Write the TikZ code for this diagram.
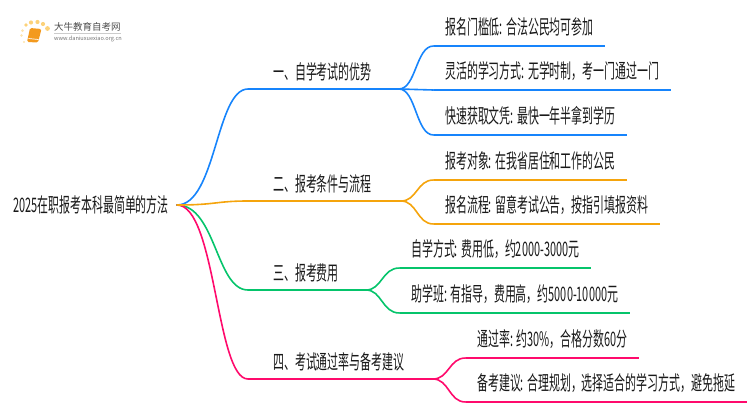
\documentclass[tikz,border=0pt]{standalone}
\usepackage{fontspec}
\setmainfont{Noto Sans CJK SC}
\newfontfamily\mapfont[FakeStretch=0.547]{Noto Sans CJK SC}
\usetikzlibrary{positioning}
\definecolor{bluelink}{HTML}{1684FC}
\definecolor{orangelink}{HTML}{F5A40C}
\definecolor{greenlink}{HTML}{05C46B}
\definecolor{pinklink}{HTML}{FF0A6C}
\definecolor{booklogo}{HTML}{F39A1E}
\definecolor{dotlogo}{HTML}{FCD27A}

\begin{document}
\begin{tikzpicture}[
    x=1pt, y=-1pt,
    title/.style={
        font=\mapfont\fontsize{20}{22}\selectfont,
        text=black!90,
        inner ysep=0pt,
        text height=18pt
    },
    rootnode/.style={title, text depth=3pt, inner xsep=8pt, anchor=west},
    branch/.style={title, text depth=9pt, inner xsep=25pt, anchor=south west},
    leaf/.style={title, text depth=11.4pt, inner xsep=11.5pt, anchor=south west},
    curve/.style={line width=1.6pt, line cap=round},
    under/.style={line width=2.4pt}
]
\useasboundingbox (0,0) rectangle (750,410);

% Logo
\foreach \px/\py/\pr in {26/25/1.9, 31/22.5/2.1, 37.5/22/2.1, 43/24/2.1, 47.5/28.5/2.4}
    \fill[dotlogo] (\px,\py) circle (\pr);
\foreach \px/\py/\pr in {22.5/30.5/1.5, 21.5/35.5/1.3, 24/42/1.1}
    \fill[dotlogo!60] (\px,\py) circle (\pr);
\fill[booklogo, rounded corners=1.5pt] (30,28) -- (41.5,29) -- (38,42.5) -- (27,42) -- cycle;
\draw[white, line width=0.7pt] (28.5,38.5) -- (38.5,39.5);
\node[font=\fontsize{9.5}{10}\selectfont, text=black!70, inner sep=0pt, anchor=west] (logotext) at (54,27) {大牛教育自考网};
\node[font=\fontsize{5.6}{6}\selectfont, text=black!55, inner sep=0pt, below=7.5pt of logotext.south west, anchor=west] (logourl) {www.daniuxuexiao.org.cn};
\draw[black!20, line width=0.5pt] (logotext.south west) ++(0,1.5) -- ++(67,0);

% Nodes
\node[rootnode] (root) at (5,205) {2025在职报考本科最简单的方法};

\node[branch] (b1) at (248,89) {一、自学考试的优势};
\node[branch] (b2) at (248,201) {二、报考条件与流程};
\node[branch] (b3) at (248,290) {三、报考费用};
\node[branch] (b4) at (248,379) {四、考试通过率与备考建议};

\coordinate (j1) at (399,89);
\coordinate (j2) at (401,201);
\coordinate (j3) at (366,290);
\coordinate (j4) at (433,379);

\node[leaf] (a1) at (433.5,46) {报名门槛低: 合法公民均可参加};
\node[leaf] (a2) at (433.5,90) {灵活的学习方式: 无学时制，考一门通过一门};
\node[leaf] (a3) at (433.5,135) {快速获取文凭: 最快一年半拿到学历};
\node[leaf] (c1) at (433.5,180) {报考对象: 在我省居住和工作的公民};
\node[leaf] (c2) at (433.5,224) {报名流程: 留意考试公告，按指引填报资料};
\node[leaf] (d1) at (399.5,268) {自学方式: 费用低，约2000-3000元};
\node[leaf] (d2) at (399.5,313) {助学班: 有指导，费用高，约5000-10000元};
\node[leaf] (e1) at (465.5,358) {通过率: 约30\%，合格分数60分};
\node[leaf] (e2) at (465.5,402) {备考建议: 合理规划，选择适合的学习方式，避免拖延};

% Links
\draw[curve, bluelink] (root.east) .. controls (216,205) and (216,89) .. (b1.south west);
\draw[under, bluelink] (b1.south west) -- (j1);
\foreach \leafname in {a1, a2, a3} {
    \draw[curve, bluelink] (j1) .. controls (416,89) and (416,0 |- \leafname.south west) .. (\leafname.south west);
    \draw[under, bluelink] (\leafname.south west) -- (\leafname.south east);
}

\draw[curve, greenlink] (root.east) .. controls (216,205) and (216,290) .. (b3.south west);
\draw[under, greenlink] (b3.south west) -- (j3);
\foreach \leafname in {d1, d2} {
    \draw[curve, greenlink] (j3) .. controls (382,290) and (382,0 |- \leafname.south west) .. (\leafname.south west);
    \draw[under, greenlink] (\leafname.south west) -- (\leafname.south east);
}

\draw[curve, pinklink] (root.east) .. controls (216,205) and (216,379) .. (b4.south west);
\draw[under, pinklink] (b4.south west) -- (j4);
\foreach \leafname in {e1, e2} {
    \draw[curve, pinklink] (j4) .. controls (449,379) and (449,0 |- \leafname.south west) .. (\leafname.south west);
    \draw[under, pinklink] (\leafname.south west) -- (\leafname.south east);
}

\draw[curve, orangelink] (root.east) .. controls (216,205) and (216,201) .. (b2.south west);
\draw[under, orangelink] (b2.south west) -- (j2);
\foreach \leafname in {c1, c2} {
    \draw[curve, orangelink] (j2) .. controls (417,201) and (417,0 |- \leafname.south west) .. (\leafname.south west);
    \draw[under, orangelink] (\leafname.south west) -- (\leafname.south east);
}

\end{tikzpicture}
\end{document}
